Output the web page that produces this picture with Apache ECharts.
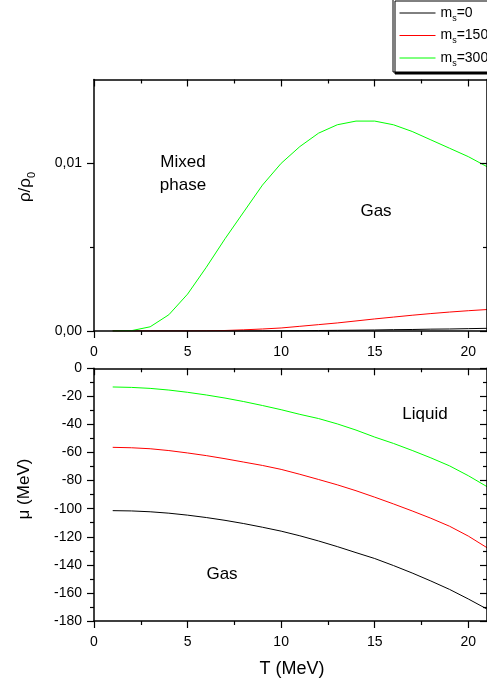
<!DOCTYPE html>
<html>
<head>
<meta charset="utf-8">
<script src="https://cdn.jsdelivr.net/npm/echarts@6/dist/echarts.min.js"></script>
<style>
html,body{margin:0;padding:0;background:#fff;}
#chart{width:487px;height:686px;}
</style>
</head>
<body>
<div id="chart"></div>
<script>
// ---- data ----
const T = [1,2,3,4,5,6,7,8,9,10,11,12,13,14,15,16,17,18,19,20,21];
const rhoMs0   = [0,0,0,0,0,0,0,0,0.000005,0.00001,0.00002,0.00003,0.00004,0.00005,0.00006,0.00008,0.00009,0.00011,0.00012,0.00014,0.00016];
const rhoMs150 = [0,0,0,0,0,0.00001,0.00003,0.00007,0.00012,0.00018,0.00028,0.00038,0.00048,0.0006,0.00072,0.00083,0.00094,0.00104,0.00113,0.00121,0.00128];
const rhoMs300 = [0,0.00002,0.00025,0.00097,0.0022,0.0038,0.0055,0.0071,0.0087,0.0100,0.0110,0.0118,0.0123,0.01252,0.01252,0.0123,0.0119,0.0114,0.0109,0.0104,0.0098];
const muMs0   = [-101.4,-101.6,-102.2,-103.2,-104.6,-106.3,-108.3,-110.6,-113.2,-116.0,-119.3,-123.0,-127.0,-131.3,-135.5,-140.5,-145.8,-151.5,-157.5,-164.3,-171.5];
const muMs150 = [-56.3,-56.6,-57.3,-58.6,-60.3,-62.2,-64.4,-66.8,-69.2,-72.0,-75.5,-79.2,-83.0,-87.2,-91.8,-96.6,-101.6,-106.8,-112.5,-119.5,-127.8];
const muMs300 = [-13.3,-13.6,-14.3,-15.5,-17.1,-19.0,-21.2,-23.7,-26.5,-29.5,-32.8,-35.8,-39.6,-44.0,-49.0,-53.5,-58.5,-63.8,-69.5,-76.5,-84.3];
const seriesNames = ['ms=0','ms=150','ms=300'];
const seriesColors = ['#000000','#ff0000','#00ff00'];
const xTicks = [0,5,10,15,20];
const xMinor = [2.5,7.5,12.5,17.5];
const rhoTicks = [0,0.01];
const rhoMinor = [0.005];
const muTicks = [-180,-160,-140,-120,-100,-80,-60,-40,-20,0];
const muMinor = [-170,-150,-130,-110,-90,-70,-50,-30,-10];

const FONT = '"Liberation Sans", Arial, sans-serif';
const lineStyleAxis = {color:'#000', width:1.5};

function axesFor(dim, gridIndex, min, max, major, minor, fmt) {
  const posA = dim === 'x' ? 'bottom' : 'left';
  const posB = dim === 'x' ? 'top' : 'right';
  const base = {type:'value', gridIndex, min, max, splitLine:{show:false}, z:5};
  return [
    Object.assign({}, base, {position:posA, axisLine:{show:true, onZero:false, lineStyle:lineStyleAxis},
      axisTick:{show:true, inside:false, length:7, customValues:major, lineStyle:{color:'#000', width:1.2}},
      axisLabel:{show:true, customValues:major, margin: dim==='x'?14:12, fontSize:14, color:'#000', fontFamily:FONT, formatter:fmt}}),
    Object.assign({}, base, {position:posA, axisLine:{show:false, onZero:false},
      axisTick:{show:true, inside:false, length:4, customValues:minor, lineStyle:{color:'#000', width:1.2}},
      axisLabel:{show:false}}),
    Object.assign({}, base, {position:posB, axisLine:{show:true, onZero:false, lineStyle:lineStyleAxis},
      axisTick:{show:true, inside:true, length:7, customValues:major, lineStyle:{color:'#000', width:1.2}},
      axisLabel:{show:false}}),
    Object.assign({}, base, {position:posB, axisLine:{show:false, onZero:false},
      axisTick:{show:true, inside:true, length:4, customValues:minor, lineStyle:{color:'#000', width:1.2}},
      axisLabel:{show:false}})
  ];
}

const rhoFmt = v => v.toFixed(2).replace('.', ',');
const muFmt = v => String(v);
const xFmt = v => String(v);

const xAxis = [].concat(
  axesFor('x', 0, 0, 21, xTicks, xMinor, xFmt),
  axesFor('x', 1, 0, 21, xTicks, xMinor, xFmt)
);
const yAxis = [].concat(
  axesFor('y', 0, 0, 0.015, rhoTicks, rhoMinor, rhoFmt),
  axesFor('y', 1, -180, 0, muTicks, muMinor, muFmt)
);

function pairs(vals){ return T.map((t,i)=>[t, vals[i]]); }
const rhoSets = [rhoMs0, rhoMs150, rhoMs300];
const muSets = [muMs0, muMs150, muMs300];
const series = [];
for (let k=0;k<3;k++){
  series.push({type:'line', name:seriesNames[k], xAxisIndex:0, yAxisIndex:0, data:pairs(rhoSets[k]),
    symbol:'none', showSymbol:false, lineStyle:{color:seriesColors[k], width:1}, itemStyle:{color:seriesColors[k]}, z:2+k});
}
for (let k=0;k<3;k++){
  series.push({type:'line', name:seriesNames[k], xAxisIndex:4, yAxisIndex:4, data:pairs(muSets[k]),
    symbol:'none', showSymbol:false, lineStyle:{color:seriesColors[k], width:1}, itemStyle:{color:seriesColors[k]}, z:2+k});
}

const txt = (x, y, text, extra) => Object.assign({type:'text', x, y, style:{text, fill:'#000', font:'17px '+FONT, textAlign:'center', textVerticalAlign:'middle'}}, extra||{});

const option = {
  animation:false,
  backgroundColor:'#fff',
  grid:[
    {left:94, top:79.5, width:393.75, height:251.5},
    {left:94, top:368.3, width:393.75, height:252.7}
  ],
  xAxis, yAxis, series,
  legend:{
    data:seriesNames, orient:'vertical', left:393, top:-1,
    padding:[7,40,4,6], itemGap:5.5, itemWidth:36, itemHeight:14,
    backgroundColor:'#fff', borderColor:'#000', borderWidth:1,
    shadowColor:'#000', shadowOffsetX:2, shadowOffsetY:2, shadowBlur:0,
    selectedMode:false,
    itemStyle:{opacity:0},
    lineStyle:{width:1},
    formatter: name => '{m|m}{s|s}{m|=' + name.slice(3) + '}',
    textStyle:{fontFamily:FONT, color:'#000', fontSize:14,
      rich:{ m:{fontSize:14, fontFamily:FONT, color:'#000', lineHeight:14},
             s:{fontSize:9, fontFamily:FONT, color:'#000', verticalAlign:'bottom', lineHeight:20} }}
  },
  graphic:[
    txt(183, 162, 'Mixed'),
    txt(183, 185, 'phase'),
    txt(376, 211, 'Gas'),
    txt(425, 414, 'Liquid'),
    txt(222, 574, 'Gas'),
    txt(292, 669, 'T (MeV)', {style:{text:'T (MeV)', fill:'#000', font:'18px '+FONT, textAlign:'center', textVerticalAlign:'middle'}}),
    {type:'text', x:24, y:489, rotation:Math.PI/2,
      style:{text:'μ (MeV)', fill:'#000', font:'17px '+FONT, textAlign:'center', textVerticalAlign:'middle'}},
    {type:'text', x:25, y:187, rotation:Math.PI/2,
      style:{text:'{a|ρ/ρ}{b|0}', textAlign:'center', textVerticalAlign:'middle',
        rich:{a:{fontSize:17, fontFamily:FONT, fill:'#000', color:'#000', lineHeight:18},
              b:{fontSize:11, fontFamily:FONT, fill:'#000', color:'#000', verticalAlign:'bottom', lineHeight:25}}}}
  ]
};

const chart = echarts.init(document.getElementById('chart'), null, {renderer:'canvas'});
chart.setOption(option);
</script>
</body>
</html>
